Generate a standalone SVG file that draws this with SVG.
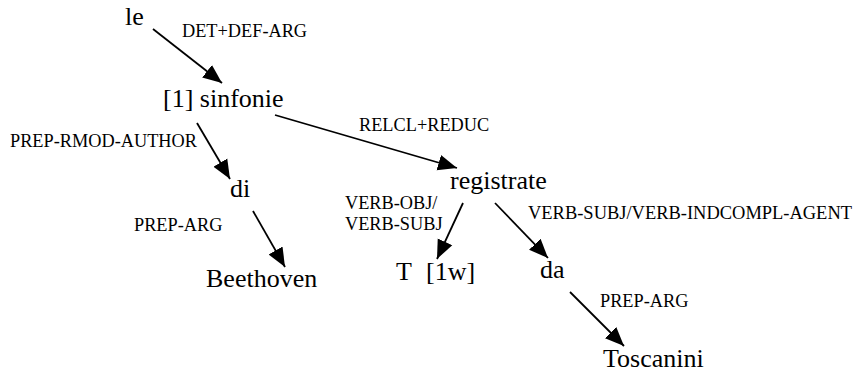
<svg xmlns="http://www.w3.org/2000/svg" width="856" height="373" viewBox="0 0 856 373">
<style>
text{font-family:'Liberation Serif','DejaVu Serif',serif;fill:#000}
.node{font-size:26px}
.lbl{font-size:18.3px}
.edge{stroke:#000;stroke-width:1.8;fill:none}
</style>
<defs>
<marker id="ah" markerUnits="userSpaceOnUse" markerWidth="20" markerHeight="18" refX="19" refY="8" orient="auto" viewBox="0 0 20 16">
<path d="M0,0 L19,8 L0,16 z" fill="#000"/>
</marker>
</defs>
<rect width="856" height="373" fill="#fff"/>
<g id="edges">
<line class="edge" x1="153" y1="29" x2="222" y2="83" marker-end="url(#ah)"/>
<line class="edge" x1="197" y1="123" x2="230" y2="179" marker-end="url(#ah)"/>
<line class="edge" x1="275" y1="115" x2="457" y2="168" marker-end="url(#ah)"/>
<line class="edge" x1="253" y1="211" x2="285" y2="267" marker-end="url(#ah)"/>
<line class="edge" x1="463" y1="203" x2="437" y2="259" marker-end="url(#ah)"/>
<line class="edge" x1="495" y1="203" x2="548" y2="258" marker-end="url(#ah)"/>
<line class="edge" x1="570" y1="292" x2="624" y2="346" marker-end="url(#ah)"/>
<text class="lbl" x="182" y="37">DET+DEF-ARG</text>
<text class="lbl" x="10" y="147">PREP-RMOD-AUTHOR</text>
<text class="lbl" x="359" y="131">RELCL+REDUC</text>
<text class="lbl" x="134" y="231">PREP-ARG</text>
<text class="lbl" x="345" y="209">VERB-OBJ/</text>
<text class="lbl" x="345" y="230">VERB-SUBJ</text>
<text class="lbl" x="528" y="219" textLength="324" lengthAdjust="spacingAndGlyphs">VERB-SUBJ/VERB-INDCOMPL-AGENT</text>
<text class="lbl" x="600" y="307">PREP-ARG</text>
</g>
<g id="n-le"><text class="node" x="125" y="25">le</text></g>
<g id="n-sinfonie"><text class="node" x="163" y="107">[1] sinfonie</text></g>
<g id="n-di"><text class="node" x="230" y="197">di</text></g>
<g id="n-beethoven"><text class="node" x="206" y="287">Beethoven</text></g>
<g id="n-registrate"><text class="node" x="450" y="189">registrate</text></g>
<g id="n-t1w"><text class="node" x="396" y="280">T<tspan x="426">[1w]</tspan></text></g>
<g id="n-da"><text class="node" x="540" y="278">da</text></g>
<g id="n-toscanini"><text class="node" x="603" y="367">Toscanini</text></g>
</svg>
